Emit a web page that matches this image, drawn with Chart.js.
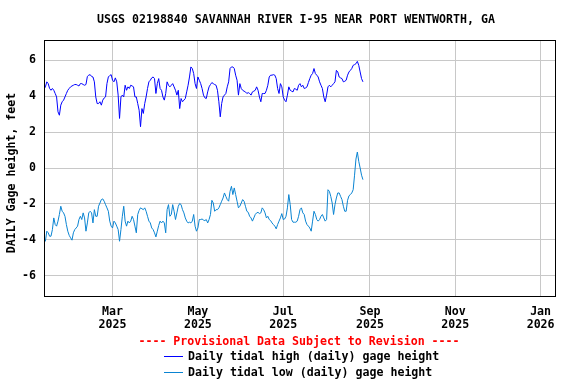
<!DOCTYPE html>
<html><head><meta charset="utf-8">
<script src="https://cdn.jsdelivr.net/npm/chart.js@4/dist/chart.umd.min.js"></script>
<style>html,body{margin:0;padding:0;background:#fff}</style>
</head><body>
<canvas id="c" width="576" height="384"></canvas>
<script>
// ---- data (daily values starting at startDate) ----
const startDate = '2025-01-11';
const endDate = '2026-01-12';
const tickDates = ['2025-03-01','2025-05-01','2025-07-01','2025-09-01','2025-11-01','2026-01-01'];
const tickMonths = ['Mar','May','Jul','Sep','Nov','Jan'];
const tickYears = ['2025','2025','2025','2025','2025','2026'];
const yTicks = [-6,-4,-2,0,2,4,6];
const seriesNames = ['Daily tidal high (daily) gage height','Daily tidal low (daily) gage height'];

const highValues = [
 4.4,4.52,4.8,4.7,4.43,4.33,4.43,4.33,4.15,3.96,
 3.13,2.94,3.5,3.69,3.78,3.96,4.15,4.33,4.43,4.52,
 4.57,4.61,4.65,4.65,4.61,4.57,4.7,4.7,4.65,4.61,
 4.65,5.1,5.17,5.2,5.1,5.07,4.8,3.96,3.59,3.59,
 3.69,3.5,3.78,3.9,3.96,4.7,5.07,5.15,5.2,4.89,
 4.8,5.02,4.8,4.06,2.76,3.96,4.06,3.96,4.61,4.33,
 4.52,4.43,4.61,4.57,4.52,3.96,3.96,3.59,3.22,2.3,
 3.31,3.04,3.59,3.96,4.43,4.8,4.89,5.02,5.07,4.98,
 4.15,4.7,4.98,4.43,4.33,3.96,3.78,4.15,4.8,4.61,
 4.52,4.61,4.7,4.52,4.33,4.06,4.33,3.31,3.87,3.69,
 3.78,3.87,4.24,4.61,5.07,5.63,5.54,5.26,4.7,4.43,
 5.07,4.89,4.7,4.43,4.06,3.91,3.87,4.24,4.52,4.65,
 4.76,4.7,4.65,4.61,4.33,3.69,2.85,3.59,3.96,4.06,
 4.15,4.52,4.8,5.54,5.63,5.63,5.54,5.17,4.89,4.06,
 4.7,4.43,4.33,4.28,4.24,4.15,4.2,4.15,4.06,4.24,
 4.28,4.33,4.52,4.33,3.96,3.69,4.15,4.15,4.15,4.33,
 4.61,5.07,5.17,5.17,5.2,5.17,4.98,4.43,4.15,4.7,
 4.52,3.96,3.78,3.69,4.06,4.52,4.33,4.28,4.24,4.43,
 4.39,4.33,4.61,4.7,4.52,4.61,4.43,4.46,4.52,4.76,
 4.98,5.17,5.26,5.54,5.26,5.17,5.07,4.8,4.61,4.43,
 3.96,3.69,4.06,4.52,4.61,4.52,4.61,4.7,4.8,5.44,
 5.35,5.07,5.02,4.98,4.8,4.83,4.89,5.17,5.35,5.44,
 5.54,5.72,5.76,5.81,5.94,5.72,5.35,4.98,4.8
];

const lowValues = [
 -3.89,-4.08,-3.52,-3.61,-3.8,-3.8,-3.43,-2.78,-3.15,-3.24,
 -2.96,-2.59,-2.13,-2.41,-2.5,-2.69,-3.15,-3.52,-3.75,-3.89,
 -4.02,-3.61,-3.43,-3.34,-3.24,-2.87,-2.69,-2.87,-2.5,-2.78,
 -3.52,-3.06,-2.5,-2.41,-2.5,-3.06,-2.32,-2.69,-2.69,-2.13,
 -1.95,-1.76,-1.72,-1.85,-2.04,-2.22,-2.41,-2.96,-3.24,-3.34,
 -2.96,-3.06,-3.24,-3.43,-4.08,-3.43,-2.69,-2.13,-2.96,-3.24,
 -2.96,-3.06,-2.96,-2.69,-2.87,-3.24,-3.61,-2.59,-2.36,-2.22,
 -2.27,-2.32,-2.22,-2.41,-2.69,-2.96,-3.06,-3.34,-3.43,-3.61,
 -3.84,-3.52,-3.2,-2.96,-3.06,-2.96,-3.06,-3.61,-2.32,-2.04,
 -2.69,-2.59,-2.04,-2.41,-2.87,-2.5,-2.13,-1.98,-2.04,-2.32,
 -2.5,-2.78,-2.96,-3.06,-3.02,-3.06,-2.96,-2.59,-3.24,-3.52,
 -3.34,-2.87,-2.87,-2.84,-2.9,-2.93,-2.87,-3.06,-2.87,-2.59,
 -1.8,-1.95,-2.41,-2.32,-2.32,-2.22,-2.04,-1.85,-1.67,-1.39,
 -1.58,-1.76,-1.85,-1.3,-1.02,-1.48,-1.11,-1.48,-1.85,-2.22,
 -2.13,-1.95,-1.76,-1.85,-2.13,-2.41,-2.47,-2.69,-2.78,-2.96,
 -2.78,-2.59,-2.5,-2.47,-2.54,-2.5,-2.22,-2.32,-2.5,-2.78,
 -2.69,-2.87,-2.93,-3.06,-3.15,-3.24,-3.39,-3.15,-2.96,-2.78,
 -2.54,-2.87,-2.84,-2.69,-2.22,-1.48,-2.04,-2.87,-3.02,-3.02,
 -3.02,-2.96,-2.69,-2.32,-2.22,-2.5,-2.59,-2.96,-3.15,-3.24,
 -3.34,-3.52,-2.96,-2.41,-2.59,-2.87,-2.96,-2.87,-2.69,-2.59,
 -2.78,-2.96,-2.87,-1.21,-1.3,-1.58,-1.95,-2.59,-2.04,-1.67,
 -1.39,-1.39,-1.58,-1.76,-2.13,-2.41,-2.41,-1.8,-1.55,-1.48,
 -1.39,-1.21,-0.4,0.5,0.89,0.37,0.0,-0.4,-0.65
];

// ---- helpers ----
const DAY = 86400000;
const dayOf = s => (Date.parse(s) - Date.parse(startDate)) / DAY;
const toPoints = arr => arr.map((v, i) => ({x: i, y: v}));

const FONT = '"DejaVu Sans Mono", "Liberation Mono", monospace';
const FSIZE = 11.6;
const HIGH_COLOR = '#0000ff';
const LOW_COLOR = '#0a84d2';

const decor = {
  id: 'decor',
  afterDraw(chart) {
    const ctx = chart.ctx, a = chart.chartArea;
    ctx.save();
    // frame
    ctx.strokeStyle = '#000';
    ctx.lineWidth = 1;
    ctx.strokeRect(Math.round(a.left) + 0.5, Math.round(a.top) + 0.5,
                   Math.round(a.right - a.left) - 1, Math.round(a.bottom - a.top));
    ctx.font = 'bold ' + FSIZE + 'px ' + FONT;
    ctx.fillStyle = '#000';
    ctx.textBaseline = 'middle';
    // title
    ctx.textAlign = 'center';
    ctx.fillText('USGS 02198840 SAVANNAH RIVER I-95 NEAR PORT WENTWORTH, GA', 296, 20);
    // y title
    ctx.save();
    ctx.translate(12, 173);
    ctx.rotate(-Math.PI / 2);
    ctx.fillText('DAILY Gage height, feet', 0, 0);
    ctx.restore();
    // provisional
    ctx.fillStyle = '#ff0000';
    ctx.fillText('---- Provisional Data Subject to Revision ----', 299, 342);
    // legend
    const rows = [[HIGH_COLOR, seriesNames[0], 356], [LOW_COLOR, seriesNames[1], 372]];
    ctx.textAlign = 'left';
    rows.forEach(([c, t, y]) => {
      ctx.strokeStyle = c;
      ctx.beginPath();
      ctx.moveTo(164, y + 0.5);
      ctx.lineTo(183, y + 0.5);
      ctx.stroke();
      ctx.fillStyle = '#000';
      ctx.fillText(t, 188, y + 1);
    });
    ctx.restore();
  }
};

new Chart(document.getElementById('c'), {
  type: 'line',
  data: {
    datasets: [
      {label: seriesNames[0], data: toPoints(highValues), borderColor: HIGH_COLOR, borderWidth: 1, pointRadius: 0, tension: 0, fill: false},
      {label: seriesNames[1], data: toPoints(lowValues), borderColor: LOW_COLOR, borderWidth: 1, pointRadius: 0, tension: 0, fill: false}
    ]
  },
  options: {
    responsive: false,
    animation: false,
    devicePixelRatio: 1,
    layout: {padding: {top: 40, right: 20, bottom: 0, left: 0}},
    plugins: {legend: {display: false}, title: {display: false}, tooltip: {enabled: false}},
    scales: {
      x: {
        type: 'linear',
        min: 0,
        max: dayOf(endDate),
        afterFit: s => { s.height = 88; },
        afterBuildTicks: s => { s.ticks = tickDates.map(d => ({value: dayOf(d)})); },
        ticks: {
          autoSkip: false, maxRotation: 0, minRotation: 0, padding: 9, color: '#000',
          font: {family: FONT, size: FSIZE, weight: 'bold', lineHeight: '13px'},
          callback: (v, i) => [tickMonths[i], tickYears[i]]
        },
        grid: {color: '#c8c8c8', lineWidth: 1, drawTicks: false},
        border: {display: false}
      },
      y: {
        min: -7.13,
        max: 7.13,
        afterFit: s => { s.width = 44; },
        afterBuildTicks: s => { s.ticks = yTicks.map(v => ({value: v})); },
        ticks: {
          padding: 8, color: '#000',
          font: {family: FONT, size: FSIZE, weight: 'bold'},
          callback: v => String(v)
        },
        grid: {color: '#c8c8c8', lineWidth: 1, drawTicks: false},
        border: {display: false}
      }
    }
  },
  plugins: [decor]
});
</script>
</body></html>
